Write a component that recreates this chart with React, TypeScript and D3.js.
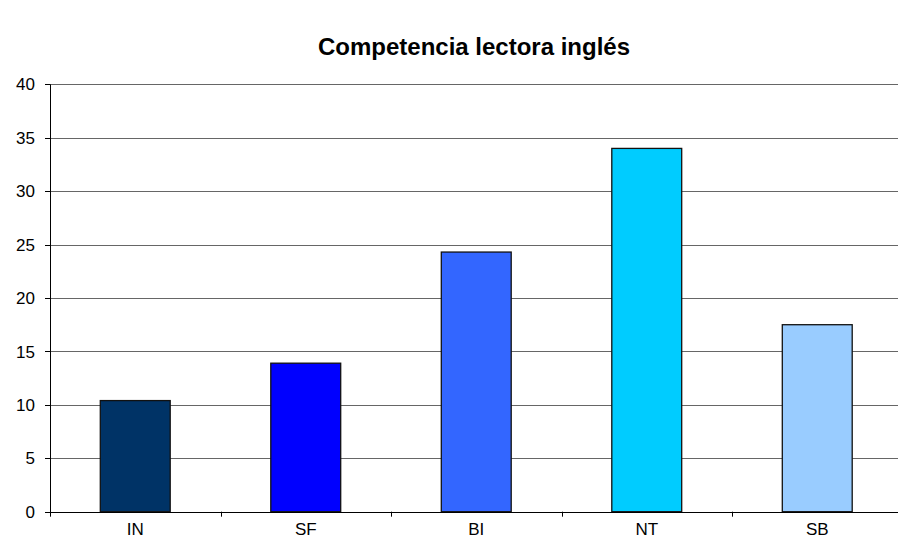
import React from "react";
import * as d3 from "d3";

const categories = ["IN", "SF", "BI", "NT", "SB"];
const values = [10.4, 13.9, 24.3, 34.0, 17.5];
const colors = ["#003366", "#0000FF", "#3366FF", "#00CCFF", "#99CCFF"];
const yTicks = [0, 5, 10, 15, 20, 25, 30, 35, 40];
const title = "Competencia lectora inglés";

export default function App() {
  const W = 898, H = 551;
  const left = 50, right = 902.5, top = 84.3, bottom = 511.7;
  const x = d3.scaleBand<string>().domain(categories).range([left, right]).paddingInner(0).paddingOuter(0);
  const y = d3.scaleLinear().domain([0, 40]).range([bottom, top]);
  const bw = x.bandwidth();
  const barW = bw * 0.41;
  const font = "Liberation Sans, Arial, sans-serif";
  return (
    <svg width={W} height={H} style={{ position: "absolute", left: 0, top: 0, background: "#fff" }} fontFamily={font}>
      <text x={474} y={55} textAnchor="middle" fontSize={24} fontWeight="bold">{title}</text>
      {yTicks.map((t) => (
        <g key={t}>
          {t > 0 && <line x1={left} x2={W} y1={Math.round(y(t)) + 0.5} y2={Math.round(y(t)) + 0.5} stroke="#666" strokeWidth={1} />}
          <line x1={left - 5} x2={left} y1={Math.round(y(t)) + 0.5} y2={Math.round(y(t)) + 0.5} stroke="#000" />
          <text x={left - 15} y={y(t)} dy="0.36em" textAnchor="end" fontSize={17}>{t}</text>
        </g>
      ))}
      {categories.map((c, i) => (
        <rect key={c} x={x(c)! + (bw - barW) / 2} y={y(values[i])} width={barW} height={bottom - y(values[i])}
          fill={colors[i]} stroke="#111" strokeWidth={1.3} />
      ))}
      <line x1={left + 0.5} x2={left + 0.5} y1={top} y2={bottom + 5} stroke="#000" />
      <line x1={left} x2={W} y1={Math.round(bottom) + 0.5} y2={Math.round(bottom) + 0.5} stroke="#000" />
      {categories.map((c, i) => (
        <g key={c}>
          {i > 0 && <line x1={Math.round(x(c)!) + 0.5} x2={Math.round(x(c)!) + 0.5} y1={bottom} y2={bottom + 5} stroke="#000" />}
          <text x={x(c)! + bw / 2} y={535} textAnchor="middle" fontSize={17}>{c}</text>
        </g>
      ))}
    </svg>
  );
}
